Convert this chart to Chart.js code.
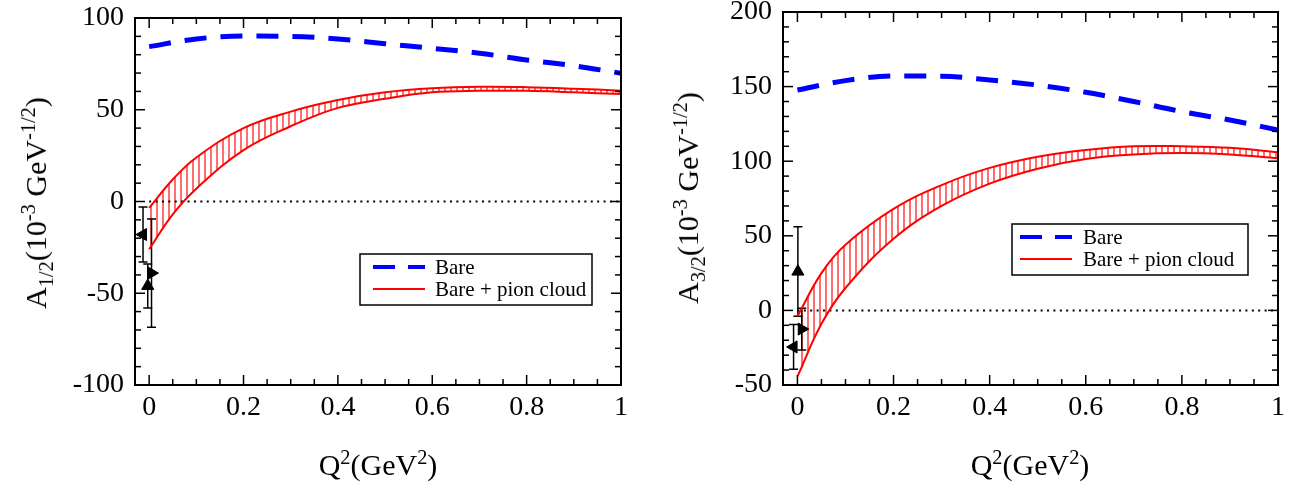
<!DOCTYPE html>
<html>
<head>
<meta charset="utf-8">
<script src="https://cdn.jsdelivr.net/npm/chart.js@4"></script>
<style>
  body { margin: 0; background: #fff; overflow: hidden; }
  #wrap { position: relative; width: 1291px; height: 485px; overflow: hidden; font-family: "Liberation Serif", "Times New Roman", serif; color: #000; }
  canvas { position: absolute; top: -30px; }
  .ytitle { position: absolute; font-size: 30px; white-space: nowrap; line-height: 1; transform: translate(-50%, -50%) rotate(-90deg); }
  .xtitle { position: absolute; font-size: 30px; white-space: nowrap; line-height: 1; transform: translate(-50%, -50%); }
  sub, sup { font-size: 68%; line-height: 0; }
</style>
</head>
<body>
<div id="wrap">
  <canvas id="left" width="645" height="515" style="left:0"></canvas>
  <canvas id="right" width="646" height="515" style="left:645px"></canvas>
  <div class="ytitle" style="left:36px; top:203px">A<sub>1/2</sub>(10<sup>-3</sup> GeV<sup>-1/2</sup>)</div>
  <div class="ytitle" style="left:688px; top:198px">A<sub>3/2</sub>(10<sup>-3</sup> GeV<sup>-1/2</sup>)</div>
  <div class="xtitle" style="left:378px; top:465px">Q<sup>2</sup>(GeV<sup>2</sup>)</div>
  <div class="xtitle" style="left:1030px; top:465px">Q<sup>2</sup>(GeV<sup>2</sup>)</div>
</div>
<script>
// Q^2 grids
const bandQ = [0, 0.05, 0.1, 0.2, 0.3, 0.4, 0.5, 0.6, 0.7, 0.8, 0.9, 1.0];
const bareQ = [0, 0.1, 0.2, 0.3, 0.4, 0.5, 0.6, 0.7, 0.8, 0.9, 1.0];

// A_1/2 panel
const a12Bare  = [84.4, 88.6, 90.2, 90.0, 88.6, 86.0, 83.5, 80.8, 77.1, 74.0, 69.9];
const a12Upper = [-3.5, 12, 24, 40, 49, 55.3, 59.5, 61.7, 62.5, 62.3, 61.5, 60.4];
const a12Lower = [-26, -7, 7, 28, 41, 51, 56, 59.5, 60.3, 60.3, 59.5, 58.6];
const a12ExpQ   = [-0.013, -0.003, 0.005];
const a12ExpVal = [-18, -46, -39];
const a12ExpErr = [15, 12, 29.5];
const a12ExpRot = [-90, 0, 90];

// A_3/2 panel
const a32Bare  = [147.7, 154.0, 157.1, 157.0, 154.4, 151.0, 146.2, 140.0, 133.2, 127.6, 120.9];
const a32Upper = [-4, 25, 44, 68, 84, 95.5, 103, 107.5, 110, 110, 109, 106];
const a32Lower = [-44.4, -9, 15, 48, 70, 85, 95, 101.5, 104.5, 105.5, 104.5, 102];
const a32ExpQ   = [0.001, 0.009, -0.008];
const a32ExpVal = [26, -12.5, -24.5];
const a32ExpErr = [30, 14, 15];
const a32ExpRot = [0, 90, -90];

const xTicks = [0, 0.2, 0.4, 0.6, 0.8, 1];
const a12Ticks = [-100, -50, 0, 50, 100];
const a32Ticks = [-50, 0, 50, 100, 150, 200];

const FONT = '"Liberation Serif", "Times New Roman", serif';

function pts(xs, ys) { return xs.map((x, i) => ({x: x, y: ys[i]})); }

function hatch() {
  const c = document.createElement('canvas');
  c.width = 6; c.height = 6;
  const g = c.getContext('2d');
  g.fillStyle = '#ff6e6e';
  g.fillRect(0, 0, 2, 6);
  return g.createPattern(c, 'repeat');
}

// box round the plot with inward ticks on all four sides
const framePlugin = {
  id: 'frame',
  afterDraw(chart, args, o) {
    const {ctx, chartArea: a, scales: {x, y}} = chart;
    ctx.save();
    ctx.strokeStyle = '#000';
    ctx.lineWidth = 1.5;
    const seg = (x1, y1, x2, y2) => { ctx.beginPath(); ctx.moveTo(x1, y1); ctx.lineTo(x2, y2); ctx.stroke(); };
    for (let k = 0; k * o.xMinor <= 1.0001; k++) {
      const p = x.getPixelForValue(k * o.xMinor);
      const L = (k % o.xEvery === 0) ? 10 : 6;
      seg(p, a.bottom, p, a.bottom - L);
      seg(p, a.top, p, a.top + L);
    }
    for (let k = 0; y.min + k * o.yMinor <= y.max + 1e-6; k++) {
      const p = y.getPixelForValue(y.min + k * o.yMinor);
      const L = (k % o.yEvery === 0) ? 10 : 6;
      seg(a.left, p, a.left + L, p);
      seg(a.right, p, a.right - L, p);
    }
    ctx.lineWidth = 2;
    ctx.strokeRect(a.left, a.top, a.right - a.left, a.bottom - a.top);
    ctx.restore();
  }
};

const errorBarPlugin = {
  id: 'errorBars',
  beforeDatasetDraw(chart, args) {
    const ds = chart.data.datasets[args.index];
    if (!ds.errors) return;
    const {ctx, scales: {x, y}} = chart;
    ctx.save();
    ctx.strokeStyle = '#000';
    ctx.lineWidth = 1.5;
    ds.data.forEach((p, i) => {
      const px = x.getPixelForValue(p.x);
      const t = y.getPixelForValue(p.y + ds.errors[i]);
      const b = y.getPixelForValue(p.y - ds.errors[i]);
      ctx.beginPath();
      ctx.moveTo(px, t); ctx.lineTo(px, b);
      ctx.moveTo(px - 4.5, t); ctx.lineTo(px + 4.5, t);
      ctx.moveTo(px - 4.5, b); ctx.lineTo(px + 4.5, b);
      ctx.stroke();
    });
    ctx.restore();
  }
};

const boxLegend = {
  id: 'boxLegend',
  afterDraw(chart, args, o) {
    const ctx = chart.ctx;
    ctx.save();
    ctx.fillStyle = '#fff';
    ctx.fillRect(o.x, o.y, o.w, o.h);
    ctx.strokeStyle = '#000';
    ctx.lineWidth = 1.5;
    ctx.strokeRect(o.x, o.y, o.w, o.h);
    ctx.font = '21px ' + FONT;
    ctx.textBaseline = 'middle';
    o.items.forEach((idx, i) => {
      const ds = chart.data.datasets[idx];
      const yy = o.y + o.row0 + i * 22;
      ctx.strokeStyle = ds.borderColor;
      ctx.lineWidth = ds.legendWidth || ds.borderWidth;
      ctx.setLineDash(ds.legendDash || []);
      ctx.beginPath();
      ctx.moveTo(o.x + o.l0, yy);
      ctx.lineTo(o.x + o.l1, yy);
      ctx.stroke();
      ctx.setLineDash([]);
      ctx.fillStyle = '#000';
      ctx.fillText(ds.label, o.x + o.tx, yy + 1);
    });
    ctx.restore();
  }
};

function makePanel(id, p) {
  const datasets = [
    {label: 'Bare', data: pts(bareQ, p.bare), borderColor: '#0000ff', borderWidth: 5,
     borderDash: [22, 14], legendDash: [22, 13], legendWidth: 4, pointRadius: 0,
     cubicInterpolationMode: 'monotone', fill: false},
    {label: 'lower', data: pts(bandQ, p.lower), borderColor: '#ff0000', borderWidth: 2,
     pointRadius: 0, tension: 0.4, fill: false},
    {label: 'Bare + pion cloud', data: pts(bandQ, p.upper), borderColor: '#ff0000', borderWidth: 2,
     pointRadius: 0, tension: 0.4, fill: '-1', backgroundColor: hatch()},
    {label: 'zero', data: [{x: 0, y: 0}, {x: 1, y: 0}], borderColor: '#000', borderWidth: 2,
     borderDash: [2, 4.4], pointRadius: 0, fill: false},
    {label: 'exp', data: pts(p.expQ, p.expVal), errors: p.expErr, showLine: false,
     pointStyle: 'triangle', pointRotation: p.expRot, pointRadius: 7,
     pointBackgroundColor: '#000', pointBorderColor: '#000', pointBorderWidth: 1}
  ];
  return new Chart(document.getElementById(id), {
    type: 'line',
    data: {datasets: datasets},
    plugins: [errorBarPlugin, framePlugin, boxLegend],
    options: {
      responsive: false,
      animation: false,
      layout: {padding: {top: p.top + 30, right: p.right, left: 0, bottom: 0}},
      plugins: {
        legend: {display: false},
        tooltip: {enabled: false},
        filler: {drawTime: 'beforeDatasetsDraw'},
        frame: {xMinor: 0.05, xEvery: 4, yMinor: 10, yEvery: 5},
        boxLegend: p.legend
      },
      scales: {
        x: {
          type: 'linear', min: -0.03, max: 1,
          afterBuildTicks: s => { s.ticks = xTicks.map(v => ({value: v})); },
          afterFit: s => { s.height = 100; },
          grid: {display: false, drawTicks: false, tickLength: 0}, border: {display: false},
          ticks: {font: {family: FONT, size: 28}, color: '#000', padding: 6,
                  maxRotation: 0, autoSkip: false, callback: v => String(v)}
        },
        y: {
          type: 'linear', min: p.yTicks[0], max: p.yTicks[p.yTicks.length - 1],
          afterBuildTicks: s => { s.ticks = p.yTicks.map(v => ({value: v})); },
          afterFit: s => { s.width = p.yWidth; },
          grid: {display: false, drawTicks: false, tickLength: 0}, border: {display: false},
          ticks: {font: {family: FONT, size: 28}, color: '#000', padding: 11,
                  callback: v => String(v)}
        }
      }
    }
  });
}

// legend boxes are given in canvas pixels (canvas sits 30px above the page top)
makePanel('left', {
  bare: a12Bare, upper: a12Upper, lower: a12Lower,
  expQ: a12ExpQ, expVal: a12ExpVal, expErr: a12ExpErr, expRot: a12ExpRot,
  yTicks: a12Ticks, top: 18, right: 24, yWidth: 135,
  legend: {x: 360, y: 284, w: 232, h: 51, row0: 13, l0: 13, l1: 65, tx: 75, items: [0, 2]}
});

makePanel('right', {
  bare: a32Bare, upper: a32Upper, lower: a32Lower,
  expQ: a32ExpQ, expVal: a32ExpVal, expErr: a32ExpErr, expRot: a32ExpRot,
  yTicks: a32Ticks, top: 12, right: 12, yWidth: 138,
  legend: {x: 367, y: 254, w: 236, h: 51, row0: 13, l0: 8, l1: 60, tx: 71, items: [0, 2]}
});
</script>
</body>
</html>
